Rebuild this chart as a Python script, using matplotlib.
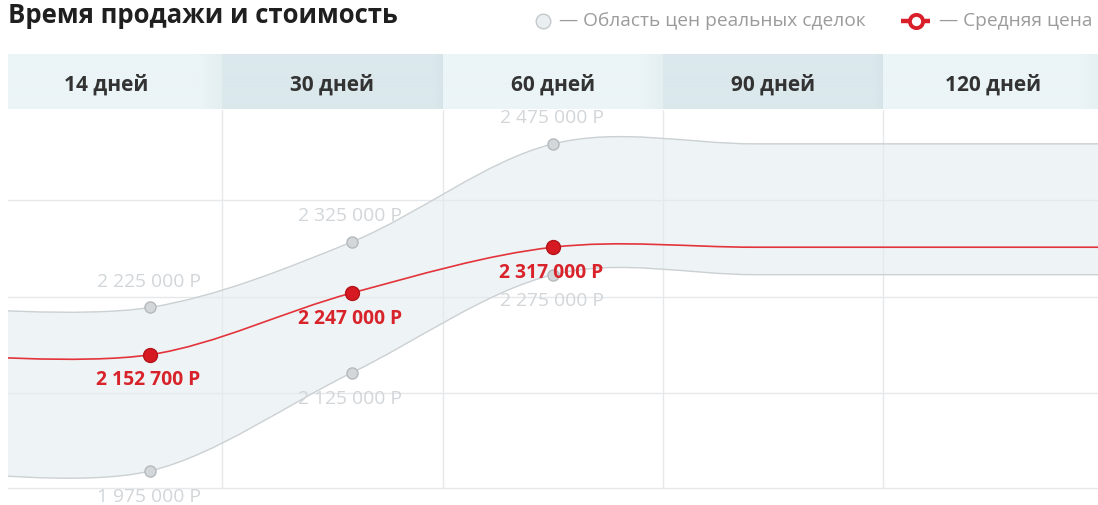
import numpy as np
import matplotlib
matplotlib.use("Agg")
import matplotlib.pyplot as plt
from matplotlib.path import Path
from matplotlib.patches import PathPatch
from matplotlib.lines import Line2D
from matplotlib.colors import to_rgb

# ---------------- data ----------------
periods = ["14 дней", "30 дней", "60 дней", "90 дней", "120 дней"]
point_periods = ["14 дней", "30 дней", "60 дней"]
upper = [2225000, 2325000, 2475000]
lower = [1975000, 2125000, 2275000]
mean = [2152700, 2247000, 2317000]
title = "Время продажи и стоимость"
legend_band = "— Область цен реальных сделок"
legend_mean = "— Средняя цена"

FONT = ["Open Sans", "DejaVu Sans"]
plt.rcParams["font.family"] = FONT

W, H = 1098, 505
fig = plt.figure(figsize=(W / 100, H / 100), dpi=100)
fig.patch.set_facecolor("white")


def fx(x):
    return x / W


def fy(y):
    return 1 - y / H


def fmt(v):
    return f"{v:,}".replace(",", " ") + " Р"


# ---------------- main axes ----------------
PLOT_L, PLOT_R, PLOT_T, PLOT_B = 8, 1098, 109.5, 488.3
ax = fig.add_axes([fx(PLOT_L), fy(PLOT_B), (PLOT_R - PLOT_L) / W, (PLOT_B - PLOT_T) / H])
ax.set_facecolor("white")
X0, DX = 150.2, 201.5
ax.set_xlim((PLOT_L - X0) / DX, (PLOT_R - X0) / DX)
ax.set_ylim(1948500, 2527500)
for s in ax.spines.values():
    s.set_visible(False)
ax.set_xticks([])
ax.set_yticks([])

GRID = "#e6e9eb"
col_bounds = [-10, 222, 443, 663, 883, 1103]
for ypx in [200, 296.7, 392.7, 488.0]:
    yf = (PLOT_B - ypx) / (PLOT_B - PLOT_T)
    ax.add_line(Line2D([0, 1], [yf, yf], transform=ax.transAxes, color=GRID, lw=1.0, zorder=3,
                       clip_on=False))
for xb in col_bounds[1:-1]:
    xf = (xb - PLOT_L) / (PLOT_R - PLOT_L)
    ax.add_line(Line2D([xf, xf], [0, 1], transform=ax.transAxes, color=GRID, lw=1.0, zorder=3))


def cardinal(x, y):
    """Bezier control points like d3.curveCardinal (tension 0)."""
    P = np.column_stack([x, y]).astype(float)
    Pp = np.vstack([P[1], P, P[-2]])
    verts = [P[0]]
    codes = [Path.MOVETO]
    for i in range(len(P) - 1):
        p0, p1, p2, p3 = Pp[i], Pp[i + 1], Pp[i + 2], Pp[i + 3]
        c1 = p1 + (p2 - p0) / 6.0
        c2 = p2 - (p3 - p1) / 6.0
        verts += [c1, c2, p2]
        codes += [Path.CURVE4] * 3
    return np.array(verts), codes


xs = np.arange(len(point_periods))
ext_x = np.r_[xs[0] - 1, xs, xs[-1] + 1, xs[-1] + 2, xs[-1] + 3]


def ext(v):
    return np.r_[v[0], v, v[-1], v[-1], v[-1]]


uv, uc = cardinal(ext_x, ext(upper))
lv, lc = cardinal(ext_x, ext(lower))
mv, mc = cardinal(ext_x, ext(mean))

band_verts = np.vstack([uv, lv[::-1], uv[:1]])
band_codes = uc + [Path.LINETO] + [Path.CURVE4] * (len(lv) - 1) + [Path.CLOSEPOLY]
ax.add_patch(PathPatch(Path(band_verts, band_codes), facecolor="#eef3f5", edgecolor="none", zorder=2))
ax.add_patch(PathPatch(Path(uv, uc), facecolor="none", edgecolor="#cbd0d3", lw=1.0, zorder=4))
ax.add_patch(PathPatch(Path(lv, lc), facecolor="none", edgecolor="#cbd0d3", lw=1.0, zorder=4))
ax.add_patch(PathPatch(Path(mv, mc), facecolor="none", edgecolor="#e3343b", lw=1.2, zorder=5))

# points
ax.plot(xs, upper, "o", ms=8, mfc="#d3d7da", mec="#b4b9bc", mew=1.0, zorder=6, clip_on=False)
ax.plot(xs, lower, "o", ms=8, mfc="#d3d7da", mec="#b4b9bc", mew=1.0, zorder=6, clip_on=False)
ax.plot(xs, mean, "o", ms=10, mfc="#d71a22", mec="#b3141b", mew=1.0, zorder=7, clip_on=False)

# value labels
GRAY_LBL = "#d2d6d9"
RED_LBL = "#d8232b"
LBL_FS = 13.9
for x, v in zip(xs, upper):
    ax.annotate(fmt(v), (x, v), xytext=(-1, 18.5), textcoords="offset points", ha="center", va="center",
                fontsize=LBL_FS, color=GRAY_LBL, zorder=8, annotation_clip=False)
for x, v in zip(xs, lower):
    ax.annotate(fmt(v), (x, v), xytext=(-1, -19), textcoords="offset points", ha="center", va="center",
                fontsize=LBL_FS, color=GRAY_LBL, zorder=8, annotation_clip=False)
for x, v in zip(xs, mean):
    ax.annotate(fmt(v), (x, v), xytext=(-1.5, -18.5), textcoords="offset points", ha="center", va="center",
                fontsize=LBL_FS, fontweight="bold", color=RED_LBL, zorder=9, annotation_clip=False)

# ---------------- header ----------------
HT, HB = 54, 109.5
hax = fig.add_axes([fx(PLOT_L), fy(HB), (PLOT_R - PLOT_L) / W, (HB - HT) / H])
hax.axis("off")
light = np.array(to_rgb("#ebf4f6"))
light_edge = np.array(to_rgb("#e4eff2"))
dark = np.array(to_rgb("#dbe8ec"))
dark_edge = np.array(to_rgb("#d6e4e9"))
for i, name in enumerate(periods):
    a, b = col_bounds[i], col_bounds[i + 1]
    n = int(b - a)
    t = np.linspace(0, 1, n)
    if i % 2 == 0:
        w = np.clip((t * n - (n - 22)) / 22, 0, 1)[:, None]
        row = light * (1 - w) + light_edge * w
    else:
        w = np.clip((t * n - (n - 8)) / 8, 0, 1)[:, None]
        row = dark * (1 - w) + dark_edge * w
    img = np.repeat(row[None, :, :], 2, axis=0)
    hax.imshow(img, extent=(a, b, HB, HT), aspect="auto", interpolation="bilinear", zorder=1)
    hax.text((a + b) / 2, 91, name, ha="center", va="baseline", fontsize=15, fontweight="bold",
             color="#333333", zorder=3)
hax.set_xlim(PLOT_L, PLOT_R)
hax.set_ylim(HB, HT)

# ---------------- title & legend ----------------
fig.text(fx(8), fy(23.3), title, ha="left", va="baseline", fontsize=18.5, fontweight="bold", color="#1f1f1f")
LEG_Y = 21
fig.add_artist(Line2D([fx(543)], [fy(LEG_Y)], transform=fig.transFigure, marker="o", ms=10.5,
                      mfc="#e9eef0", mec="#c3c8cb", mew=1.0))
fig.text(fx(559), fy(LEG_Y), legend_band, ha="left", va="center", fontsize=13.8, color="#9b9b9b")
fig.add_artist(Line2D([fx(901), fx(930)], [fy(LEG_Y), fy(LEG_Y)], transform=fig.transFigure,
                      color="#d9202a", lw=3.2, solid_capstyle="butt"))
fig.add_artist(Line2D([fx(915.5)], [fy(LEG_Y)], transform=fig.transFigure, marker="o", ms=9.5, mfc="white",
                      mec="#d9202a", mew=2.8))
fig.text(fx(939), fy(LEG_Y), legend_mean, ha="left", va="center", fontsize=13.8, color="#9b9b9b")

fig.savefig("out.png", dpi=100, facecolor="white")
